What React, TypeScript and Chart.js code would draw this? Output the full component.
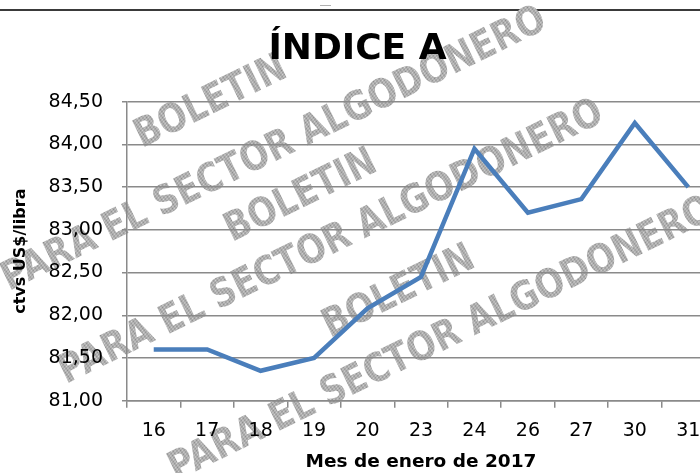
import React, { useEffect, useRef } from 'react';
import { Chart, registerables } from 'chart.js';

Chart.register(...registerables);

const categories = ['16', '17', '18', '19', '20', '23', '24', '26', '27', '30', '31'];
const indiceA = [81.6, 81.6, 81.35, 81.5, 82.08, 82.45, 83.95, 83.2, 83.36, 84.25, 83.5];
const yMin = 81;
const yMax = 84.5;
const yStep = 0.5;
const chartTitle = 'ÍNDICE A';
const yTitle = 'ctvs US$/libra';
const xTitle = 'Mes de enero de 2017';
const watermarkTop = 'BOLETIN';
const watermarkBottom = 'PARA EL SECTOR ALGODONERO';

const FONT = '"DejaVu Sans", sans-serif';

const watermarkPlugin = {
  id: 'watermark',
  beforeDraw(chart: any) {
    const ctx = chart.ctx as CanvasRenderingContext2D;
    ctx.save();
    // frame line at top
    ctx.strokeStyle = '#3a3a3a';
    ctx.lineWidth = 2;
    ctx.beginPath();
    ctx.moveTo(0, 10);
    ctx.lineTo(chart.width, 10);
    ctx.stroke();
    ctx.strokeStyle = '#b0b0b0';
    ctx.lineWidth = 1;
    ctx.beginPath();
    ctx.moveTo(320, 5.5);
    ctx.lineTo(331, 5.5);
    ctx.stroke();

    const pc = document.createElement('canvas');
    pc.width = 2;
    pc.height = 2;
    const p = pc.getContext('2d')!;
    p.fillStyle = '#d6d6d6';
    p.fillRect(0, 0, 2, 2);
    p.fillStyle = '#888888';
    p.fillRect(0, 0, 1, 1);
    p.fillRect(1, 1, 1, 1);
    const pattern = ctx.createPattern(pc, 'repeat');
    ctx.fillStyle = pattern || '#bbbbbb';
    ctx.font = 'bold 40px ' + FONT;
    ctx.textBaseline = 'alphabetic';
    ctx.textAlign = 'left';
    const angle = (-26 * Math.PI) / 180;
    const bands = [
      [142, 148, 9, 291],
      [232, 242, 66, 384],
      [330, 338, 176, 481],
    ];
    for (const [bx, by, lx, ly] of bands) {
      ctx.save();
      ctx.translate(bx, by);
      ctx.rotate(angle);
      ctx.scale(0.85, 1);
      ctx.fillText(watermarkTop, 0, 0);
      ctx.restore();
      ctx.save();
      ctx.translate(lx, ly);
      ctx.rotate(angle);
      ctx.scale(0.85, 1);
      ctx.fillText(watermarkBottom, 0, 0);
      ctx.restore();
    }
    ctx.restore();
  },
};

export default function App() {
  const ref = useRef<HTMLCanvasElement | null>(null);

  useEffect(() => {
    if (!ref.current) return;
    const chart = new Chart(ref.current, {
      type: 'line',
      data: {
        labels: categories,
        datasets: [
          {
            label: chartTitle,
            data: indiceA,
            borderColor: '#4a7ebb',
            borderWidth: 4.5,
            pointRadius: 0,
            pointHoverRadius: 0,
            fill: false,
            tension: 0,
          },
        ],
      },
      options: {
        animation: false,
        responsive: false,
        devicePixelRatio: 1,
        layout: { padding: { left: 0, right: 9, top: 0, bottom: 0 } },
        plugins: {
          legend: { display: false },
          tooltip: { enabled: false },
          title: {
            display: true,
            text: chartTitle,
            color: '#000',
            font: { family: FONT, size: 36, weight: 'bold', lineHeight: 1.2 },
            padding: { top: 28, bottom: 30.5 },
          },
        },
        scales: {
          x: {
            type: 'category',
            offset: true,
            afterFit(scale: any) {
              scale.height = 72.3;
            },
            grid: {
              offset: true,
              drawOnChartArea: false,
              drawTicks: true,
              tickLength: 7,
              color: '#8a8a8a',
              lineWidth: 1.5,
            },
            border: { display: true, color: '#8a8a8a', width: 1.5 },
            ticks: {
              color: '#000',
              font: { family: FONT, size: 19, lineHeight: 1.2 },
              padding: 12,
              maxRotation: 0,
              autoSkip: false,
            },
            title: {
              display: true,
              text: xTitle,
              color: '#000',
              font: { family: FONT, size: 18.5, weight: 'bold', lineHeight: 1.2 },
              padding: { top: 0, bottom: 0 },
            },
          },
          y: {
            min: yMin,
            max: yMax,
            afterFit(scale: any) {
              scale.width = 127;
            },
            grid: {
              drawOnChartArea: true,
              drawTicks: true,
              tickLength: 5,
              color: '#8a8a8a',
              lineWidth: 1.5,
            },
            border: { display: true, color: '#8a8a8a', width: 1.5 },
            ticks: {
              stepSize: yStep,
              color: '#000',
              font: { family: FONT, size: 19, lineHeight: 1.2 },
              padding: 19,
              callback: (v: any) => Number(v).toFixed(2).replace('.', ','),
            },
            title: {
              display: true,
              text: yTitle,
              color: '#000',
              font: { family: FONT, size: 16, weight: 'bold', lineHeight: 1.2 },
              padding: { top: 11, bottom: 0 },
            },
          },
        },
      },
      plugins: [watermarkPlugin],
    });
    return () => chart.destroy();
  }, []);

  return (
    <div
      style={{
        position: 'fixed',
        left: 0,
        top: 0,
        width: 700,
        height: 473,
        overflow: 'hidden',
        background: '#fff',
      }}
    >
      <canvas ref={ref} width={724} height={473} style={{ width: 724, height: 473, display: 'block' }} />
    </div>
  );
}
